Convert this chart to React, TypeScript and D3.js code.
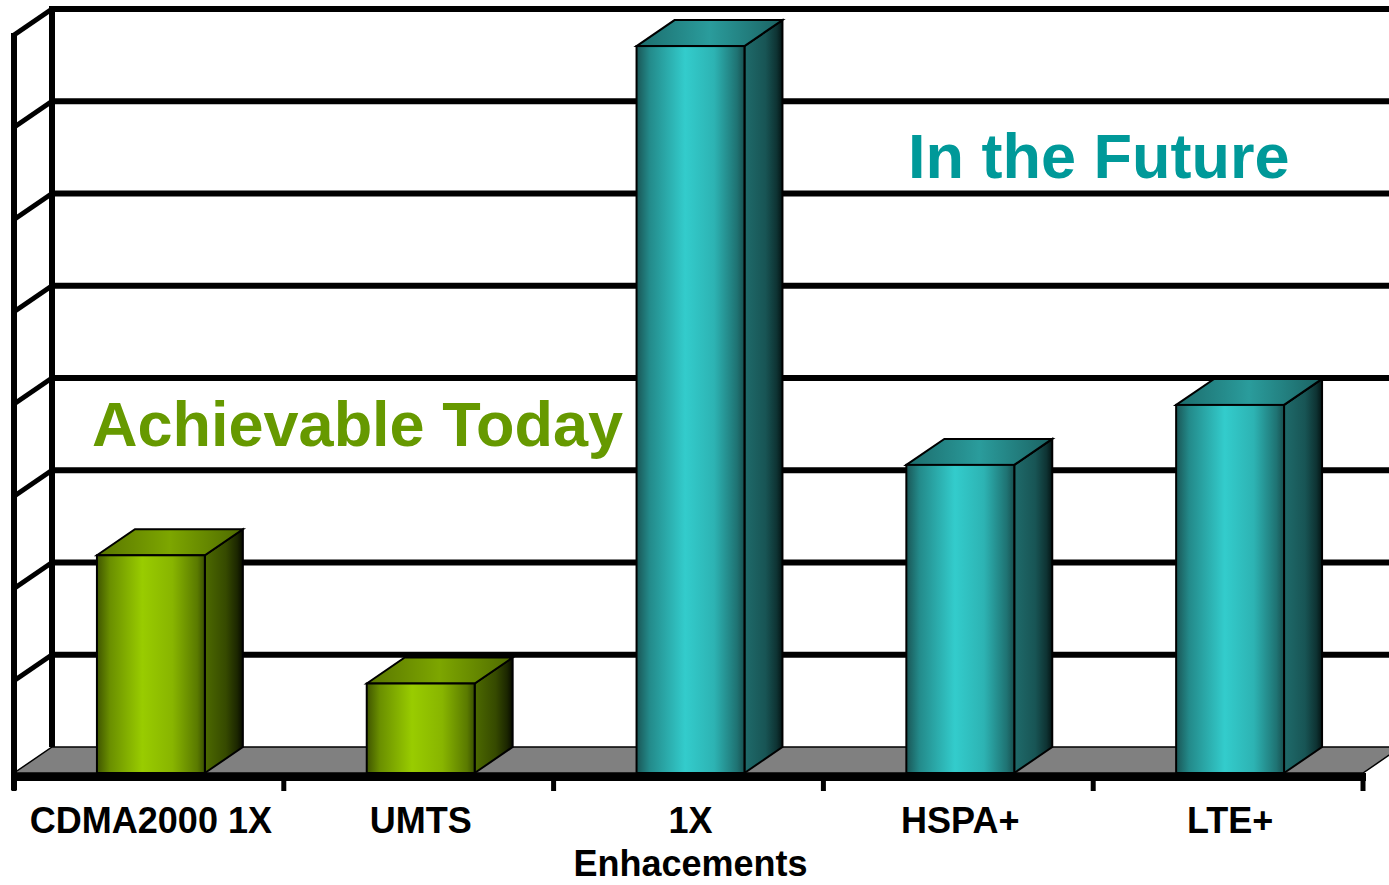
import React, { useEffect, useRef } from 'react';
import * as d3 from 'd3';

// chart data
const categories = ['CDMA2000 1X', 'UMTS', '1X Enhacements', 'HSPA+', 'LTE+'];
const labelLines = [['CDMA2000 1X'], ['UMTS'], ['1X', 'Enhacements'], ['HSPA+'], ['LTE+']];
const values = [2.36, 0.97, 7.88, 3.34, 3.99];
const groups = ['today', 'today', 'future', 'future', 'future'];
const gridTicks = [0, 1, 2, 3, 4, 5, 6, 7, 8];

const W = 1389;
const H = 885;

const App = () => {
  const ref = useRef<SVGGElement | null>(null);

  useEffect(() => {
    const g = d3.select(ref.current);
    g.selectAll('*').remove();

    // depth offset of the 3d box
    const DX = 38, DY = 26;
    const left = 14, right = 1363, floorY = 773;

    const x = d3.scaleBand<string>().domain(categories).range([left, right]).padding(0);
    const y = d3.scaleLinear().domain([0, 8]).range([floorY, floorY - 738]);
    const barW = x.bandwidth() * 0.4;

    const defs = g.append('defs');
    const grad = (id: string, stops: [number, string][]) => {
      const lg = defs.append('linearGradient').attr('id', id)
        .attr('x1', '0%').attr('x2', '100%').attr('y1', '0%').attr('y2', '0%');
      stops.forEach(s => lg.append('stop').attr('offset', s[0]).attr('stop-color', s[1]));
    };
    grad('todayFront', [[0, '#3f5500'], [0.12, '#6a8f00'], [0.42, '#99cc00'], [0.7, '#88b500'], [0.93, '#5a7a00'], [1, '#3a5000']]);
    grad('todaySide', [[0, '#4d6a00'], [0.55, '#364a00'], [0.85, '#1c2700'], [1, '#070a00']]);
    grad('todayTop', [[0, '#587500'], [0.5, '#7da600'], [1, '#4e6a00']]);
    grad('futureFront', [[0, '#1a5656'], [0.12, '#238a8a'], [0.45, '#33cccc'], [0.72, '#2db3b3'], [0.93, '#1f7373'], [1, '#185050']]);
    grad('futureSide', [[0, '#1f6b6b'], [0.55, '#185555'], [0.85, '#0e3333'], [1, '#041414']]);
    grad('futureTop', [[0, '#1c6c6c'], [0.5, '#2a9c9c'], [1, '#1b6262']]);

    // floor
    g.append('path')
      .attr('d', `M${left},${floorY}L${right},${floorY}L${right + DX},${floorY - DY}L${left + DX},${floorY - DY}Z`)
      .attr('fill', '#808080').attr('stroke', '#000').attr('stroke-width', 1.5);

    // back wall gridlines
    g.selectAll('.grid')
      .data(gridTicks.slice(1))
      .enter().append('line')
      .attr('x1', left + DX).attr('x2', W + 10)
      .attr('y1', d => y(d) - DY).attr('y2', d => y(d) - DY)
      .attr('stroke', '#000').attr('stroke-width', 6);

    // left wall
    g.append('line')
      .attr('x1', left + DX).attr('x2', left + DX)
      .attr('y1', y(8) - DY - 3).attr('y2', floorY - DY)
      .attr('stroke', '#000').attr('stroke-width', 6);
    g.append('line')
      .attr('x1', left).attr('x2', left)
      .attr('y1', y(8) - 2).attr('y2', floorY + 17)
      .attr('stroke', '#000').attr('stroke-width', 6);
    g.selectAll('.wall')
      .data(gridTicks.slice(1))
      .enter().append('line')
      .attr('x1', left).attr('x2', left + DX)
      .attr('y1', d => y(d)).attr('y2', d => y(d) - DY)
      .attr('stroke', '#000').attr('stroke-width', 5);

    // bars
    const bar = g.selectAll('.bar')
      .data(categories)
      .enter().append('g');
    bar.each(function (c, i) {
      const sel = d3.select(this);
      const x0 = (x(c) as number) + x.bandwidth() / 2 - barW / 2 + 2;
      const x1 = x0 + barW;
      const yt = y(values[i]);
      const grp = groups[i];
      sel.append('path')
        .attr('d', `M${x1},${floorY}L${x1 + DX},${floorY - DY}L${x1 + DX},${yt - DY}L${x1},${yt}Z`)
        .attr('fill', `url(#${grp}Side)`).attr('stroke', '#000').attr('stroke-width', 2);
      sel.append('path')
        .attr('d', `M${x0},${yt}L${x0 + DX},${yt - DY}L${x1 + DX},${yt - DY}L${x1},${yt}Z`)
        .attr('fill', `url(#${grp}Top)`).attr('stroke', '#000').attr('stroke-width', 2);
      sel.append('rect')
        .attr('x', x0).attr('y', yt).attr('width', barW).attr('height', floorY - yt)
        .attr('fill', `url(#${grp}Front)`).attr('stroke', '#000').attr('stroke-width', 2);
    });

    // x axis
    g.append('line')
      .attr('x1', left - 3).attr('x2', right + 3)
      .attr('y1', floorY + 4).attr('y2', floorY + 4)
      .attr('stroke', '#000').attr('stroke-width', 8);
    const edges = categories.map(c => x(c) as number).concat([right]);
    g.selectAll('.tick')
      .data(edges)
      .enter().append('line')
      .attr('x1', d => d).attr('x2', d => d)
      .attr('y1', floorY + 4).attr('y2', floorY + 18)
      .attr('stroke', '#000').attr('stroke-width', 5);

    // category labels
    g.selectAll('.label')
      .data(categories)
      .enter().append('text')
      .attr('x', d => (x(d) as number) + x.bandwidth() / 2)
      .attr('y', 833)
      .attr('text-anchor', 'middle')
      .style('font-family', '"Liberation Sans", Arial, sans-serif')
      .style('font-weight', 'bold')
      .style('font-size', '36px')
      .attr('fill', '#000')
      .each(function (d, i) {
        const t = d3.select(this);
        labelLines[i].forEach((ln, k) => {
          t.append('tspan').attr('x', (x(d) as number) + x.bandwidth() / 2 + 2)
            .attr('dy', k === 0 ? 0 : 43).text(ln);
        });
      });

    // annotations
    g.append('text')
      .attr('x', 92).attr('y', 446)
      .style('font-family', '"Liberation Sans", Arial, sans-serif')
      .style('font-weight', 'bold').style('font-size', '63px')
      .attr('fill', '#669900')
      .text('Achievable Today');
    g.append('text')
      .attr('x', 908).attr('y', 178)
      .style('font-family', '"Liberation Sans", Arial, sans-serif')
      .style('font-weight', 'bold').style('font-size', '63px')
      .attr('fill', '#009999')
      .text('In the Future');
  });

  return (
    <div>
      <svg width={W} height={H} style={{ position: 'absolute', left: 0, top: 0, background: '#fff' }}>
        <g ref={ref} />
      </svg>
    </div>
  );
};

export default App;
